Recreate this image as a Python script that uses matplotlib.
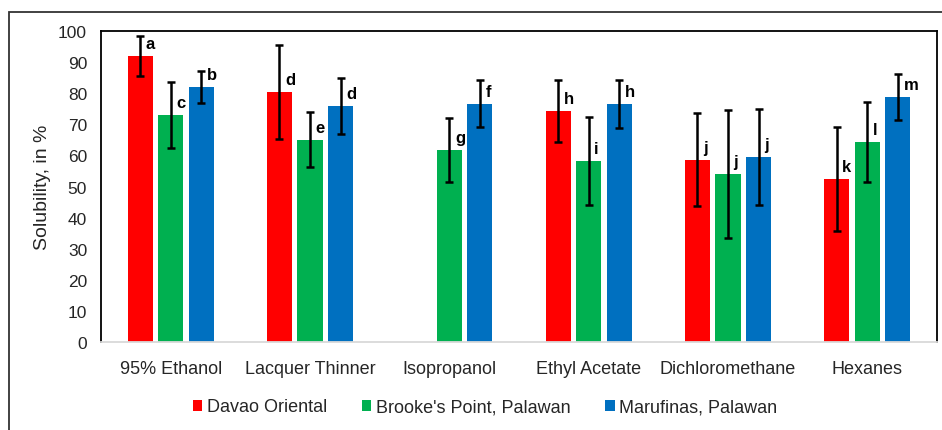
import numpy as np
import matplotlib
matplotlib.use("Agg")
import matplotlib.pyplot as plt
from matplotlib.patches import Patch, Rectangle

plt.rcParams['font.family'] = ['Liberation Sans', 'DejaVu Sans']

solvents = ["95% Ethanol", "Lacquer Thinner", "Isopropanol",
            "Ethyl Acetate", "Dichloromethane", "Hexanes"]
sources = ["Davao Oriental", "Brooke's Point, Palawan", "Marufinas, Palawan"]

davao = [92.0, 80.4, np.nan, 74.3, 58.6, 52.4]
davao_err = [6.4, 15.0, np.nan, 10.0, 15.0, 16.7]
brooke = [73.0, 65.0, 61.7, 58.2, 54.0, 64.3]
brooke_err = [10.7, 8.8, 10.4, 14.0, 20.6, 13.0]
marufinas = [82.0, 75.9, 76.6, 76.6, 59.5, 78.8]
marufinas_err = [5.0, 9.0, 7.6, 7.8, 15.5, 7.4]

davao_letters = ["a", "d", "", "h", "j", "k"]
brooke_letters = ["c", "e", "g", "i", "j", "l"]
marufinas_letters = ["b", "d", "f", "h", "j", "m"]

colors = ["#FF0000", "#00B050", "#0070C0"]
text_color = '#262626'

fig = plt.figure(figsize=(9.42, 4.31), dpi=100)
ax = fig.add_axes([101/942, 1-343/431, (937-101)/942, (343-32)/431])

x = np.arange(len(solvents))
step = 0.219
width = 0.18
series = [(davao, davao_err, davao_letters),
          (brooke, brooke_err, brooke_letters),
          (marufinas, marufinas_err, marufinas_letters)]

for k, (vals, errs, letters) in enumerate(series):
    pos = x + (k - 1) * step
    ax.bar(pos, vals, width=width, color=colors[k], zorder=2)
    ax.errorbar(pos, vals, yerr=errs, fmt='none', ecolor='black',
                elinewidth=1.8, capsize=2.8, capthick=1.8, zorder=3)
    for px, v, lab in zip(pos, vals, letters):
        if lab and not np.isnan(v):
            ax.annotate(lab, (px, v + 4), xytext=(4, 0),
                        textcoords='offset points', ha='left', va='center',
                        fontsize=12, fontweight='bold', color='black', zorder=4)

ax.set_xlim(-0.5, len(solvents) - 0.5)
ax.set_ylim(0, 100)
ax.set_yticks(np.arange(0, 101, 10))
ax.set_xticks(x)
ax.set_xticklabels(solvents)
ax.tick_params(axis='both', length=0, colors=text_color)
ax.tick_params(axis='y', labelsize=12.5, pad=10)
ax.tick_params(axis='x', labelsize=13, pad=13)
ax.set_ylabel("Solubility, in %", fontsize=14, color=text_color, labelpad=5)

for side in ['top', 'left', 'right']:
    ax.spines[side].set_color('black')
    ax.spines[side].set_linewidth(1.3)
ax.spines['bottom'].set_color('#D9D9D9')
ax.spines['bottom'].set_linewidth(1.3)

handles = [Patch(facecolor=c, edgecolor='none') for c in colors]
fig.legend(handles, sources, loc='center', bbox_to_anchor=(485/942, 1-408/431),
           ncol=3, frameon=False, fontsize=13, handlelength=0.55,
           handleheight=0.55, handletextpad=0.25, columnspacing=1.9,
           labelcolor=text_color)

# outer chart-area frame
fig.patches.append(Rectangle((9/942, -0.1), 1.2, 1 - 13/431 + 0.1,
                             transform=fig.transFigure, fill=False,
                             edgecolor='#333333', linewidth=1.3))

fig.savefig("out.png", dpi=100)
